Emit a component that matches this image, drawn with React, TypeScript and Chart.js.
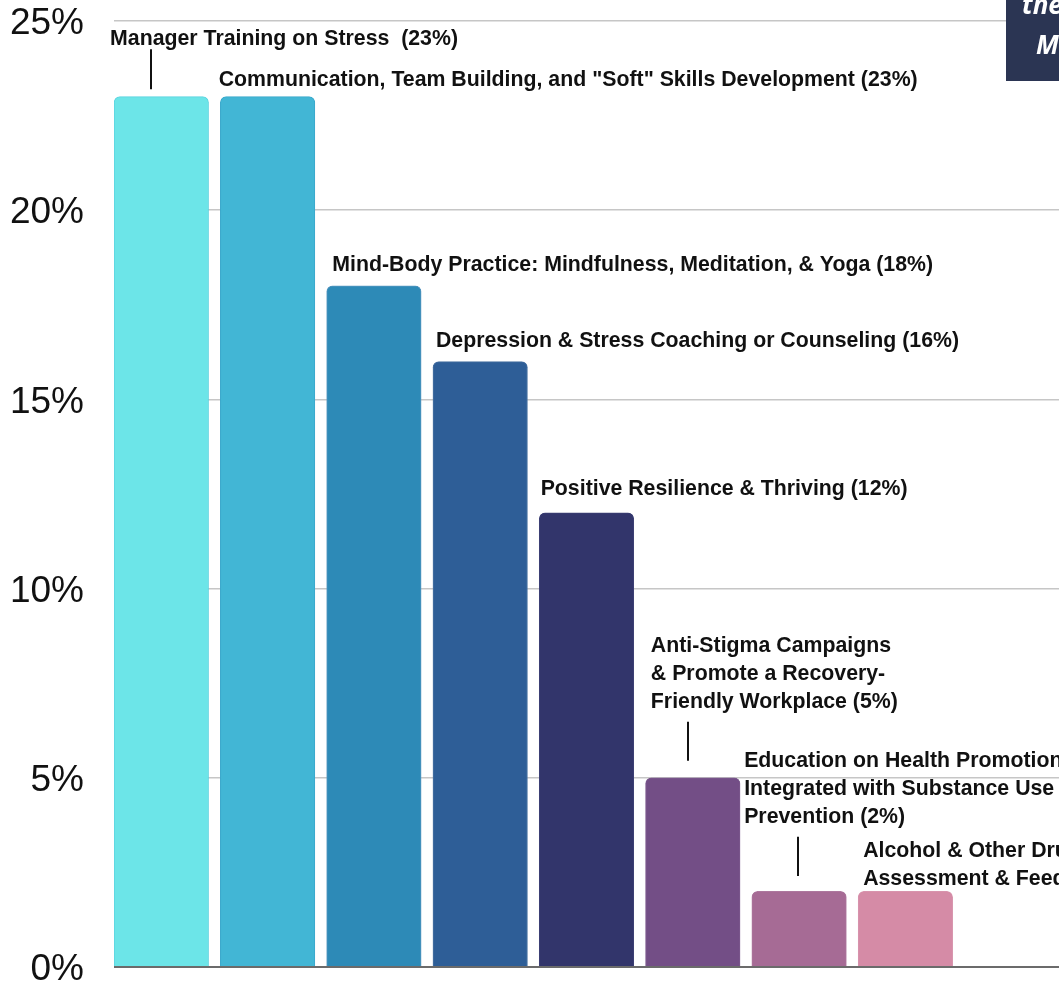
import { useEffect, useRef } from 'react';
import { Chart, registerables } from 'chart.js';

Chart.register(...registerables);

// ---------- data ----------
const categories = [
  'Manager Training on Stress',
  'Communication, Team Building, and "Soft" Skills Development',
  'Mind-Body Practice: Mindfulness, Meditation, & Yoga',
  'Depression & Stress Coaching or Counseling',
  'Positive Resilience & Thriving',
  'Anti-Stigma Campaigns & Promote a Recovery-Friendly Workplace',
  'Education on Health Promotion Integrated with Substance Use Prevention',
  'Alcohol & Other Drug Risk Assessment & Feedback',
];
const values = [23, 23, 18, 16, 12, 5, 2, 2];
const yTicks = [0, 5, 10, 15, 20, 25];
const barLabelLines = [
  ['Manager Training on Stress  (23%)'],
  ['Communication, Team Building, and "Soft" Skills Development (23%)'],
  ['Mind-Body Practice: Mindfulness, Meditation, & Yoga (18%)'],
  ['Depression & Stress Coaching or Counseling (16%)'],
  ['Positive Resilience & Thriving (12%)'],
  ['Anti-Stigma Campaigns', '& Promote a Recovery-', 'Friendly Workplace (5%)'],
  ['Education on Health Promotion', 'Integrated with Substance Use', 'Prevention (2%)'],
  ['Alcohol & Other Drug Risk', 'Assessment & Feedback (2%)'],
];
const cornerBoxLines = ['the', 'M'];

// ---------- styles ----------
const barColors = ['#6ce5e8', '#42b6d5', '#2d8ab7', '#2e5e97', '#32356b', '#734e86', '#a66b95', '#d58ba6'];
const barBorderColors = ['#5ad3df', '#3aa8cb', '#5a98c0', '#4d74a3', '#3d4075', '#7d5b8f', '#ad789e', '#d894ad'];

// label placement relative to each bar (left edge / top edge), pixels
const labelLayout = [
  { dx: -4, dy: -51.7, leader: [-10, -47.4, -7.4] },
  { dx: -1.7, dy: -10.7 },
  { dx: 5.7, dy: -15.2 },
  { dx: 3, dy: -14.2 },
  { dx: 1.4, dy: -17.9 },
  { dx: 5.3, dy: -69.5, leader: [-4.5, -56, -17] },
  { dx: -7.7, dy: -68, leader: [-1, -54.6, -15.3] },
  { dx: 5, dy: -6.3 },
];
const LINE_HEIGHT = 28.3;

const labelsPlugin = {
  id: 'barLabels',
  afterDatasetsDraw(chart: any) {
    const ctx = chart.ctx;
    const meta = chart.getDatasetMeta(0);
    ctx.save();
    ctx.font = 'bold 21.3px "Liberation Sans", Arial, sans-serif';
    ctx.fillStyle = '#111';
    ctx.textAlign = 'left';
    ctx.textBaseline = 'alphabetic';
    meta.data.forEach((bar: any, i: number) => {
      const lay = labelLayout[i];
      const lines = barLabelLines[i];
      const left = bar.x - bar.width / 2;
      const top = bar.y;
      const lastBaseline = top + lay.dy;
      lines.forEach((line, j) => {
        const y = lastBaseline - (lines.length - 1 - j) * LINE_HEIGHT;
        ctx.fillText(line, left + lay.dx, y);
      });
      if (lay.leader) {
        const [lx, y1, y2] = lay.leader;
        ctx.strokeStyle = '#111';
        ctx.lineWidth = 2;
        ctx.beginPath();
        ctx.moveTo(Math.round(bar.x + lx), top + y1);
        ctx.lineTo(Math.round(bar.x + lx), top + y2);
        ctx.stroke();
      }
    });
    // corner title box (cropped)
    ctx.fillStyle = '#2b3553';
    ctx.fillRect(1006, 0, chart.width - 1006, 81);
    ctx.fillStyle = '#ffffff';
    ctx.font = 'italic bold 26px "Open Sans", sans-serif';
    ctx.fillText(cornerBoxLines[0], 1022, 13.5);
    ctx.fillText(cornerBoxLines[1], 1036, 53.5);
    ctx.restore();
  },
};

export default function App() {
  const ref = useRef<HTMLCanvasElement>(null);
  useEffect(() => {
    const chart = new Chart(ref.current as HTMLCanvasElement, {
      type: 'bar',
      data: {
        labels: categories,
        datasets: [
          {
            data: values.map((v, i) => ({ x: i, y: v })) as any,
            backgroundColor: barColors,
            borderColor: barBorderColors,
            borderWidth: 1,
            borderRadius: { topLeft: 6, topRight: 6, bottomLeft: 0, bottomRight: 0 },
            borderSkipped: 'bottom',
            barThickness: 94.5,
          },
        ],
      },
      options: {
        responsive: false,
        animation: false,
        layout: { padding: { top: 21, bottom: 33, left: 0, right: 0 } },
        plugins: { legend: { display: false }, tooltip: { enabled: false } },
        scales: {
          x: {
            type: 'linear',
            display: false,
            offset: false,
            bounds: 'data',
            min: -0.445,
            max: 8.445,
            grid: { offset: false },
            ticks: { stepSize: 1, includeBounds: false },
          },
          y: {
            min: 0,
            max: 25,
            afterFit: (s: any) => {
              s.width = 114;
              s.paddingTop = 0;
              s.paddingBottom = 0;
            },
            afterBuildTicks: (s: any) => {
              s.ticks = yTicks.map((v) => ({ value: v }));
            },
            border: { display: false },
            grid: {
              drawTicks: false,
              color: (c: any) => (c.tick && c.tick.value === 0 ? '#6b6b6b' : '#c6c6c6'),
              lineWidth: (c: any) => (c.tick && c.tick.value === 0 ? 2 : 1.5),
            },
            ticks: {
              padding: 30,
              labelOffset: 3,
              color: '#111',
              font: { family: '"Liberation Sans", Arial, sans-serif', size: 37, lineHeight: 1 },
              callback: (v: any) => v + '%',
            },
          },
        },
      } as any,
      plugins: [labelsPlugin],
    });
    return () => chart.destroy();
  }, []);
  return (
    <div
      style={{
        position: 'fixed',
        left: 0,
        top: 0,
        width: 1059,
        height: 981,
        overflow: 'hidden',
        background: '#ffffff',
      }}
    >
      <canvas ref={ref} width={1059} height={1000} style={{ display: 'block' }} />
    </div>
  );
}
